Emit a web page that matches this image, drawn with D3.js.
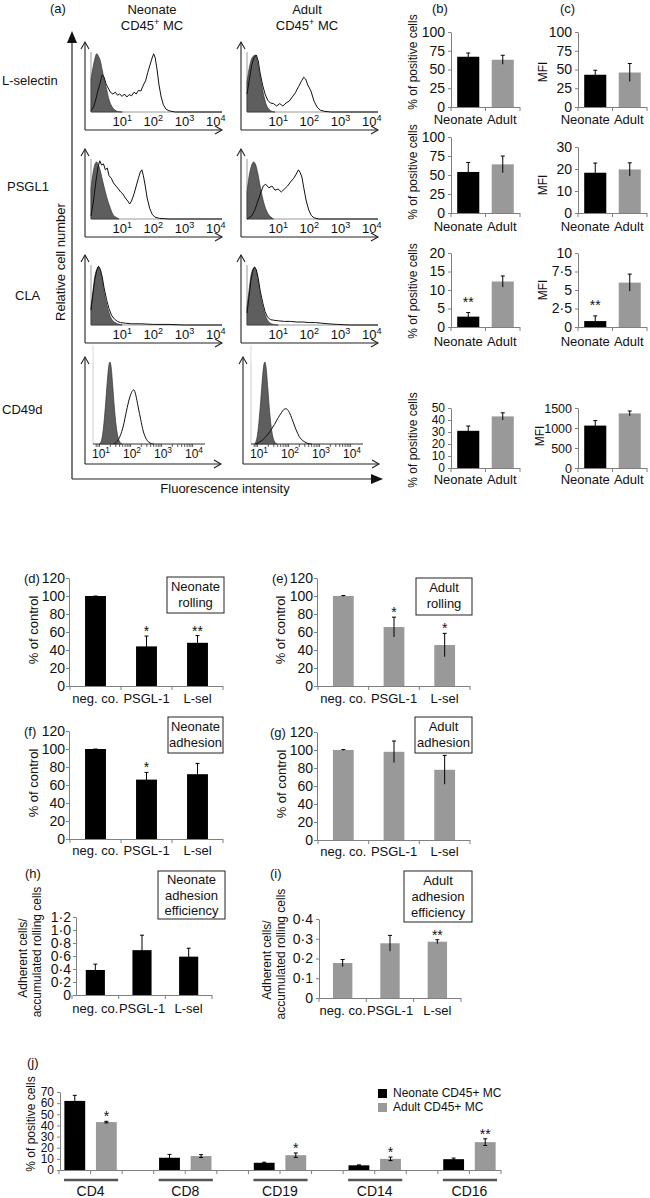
<!DOCTYPE html>
<html><head><meta charset="utf-8">
<script src="https://cdn.jsdelivr.net/npm/d3@7"></script>
<style>body{margin:0;background:#fff}</style>
</head><body><svg id="c" width="650" height="1198" xmlns="http://www.w3.org/2000/svg"></svg>
<script>
// ---------------- DATA ----------------
const histMarkers = ["L-selectin", "PSGL1", "CLA", "CD49d"];
const histGroups = ["Neonate", "Adult"];
const histTickExps = [1, 2, 3, 4];
// flow histograms: [log10 fluorescence, relative cell number]
const lselNeoIso = [[0,0.55],[0.05,0.7],[0.12,0.88],[0.18,0.97],[0.24,0.93],[0.3,0.85],[0.36,0.7],[0.42,0.55],[0.5,0.38],[0.58,0.2],[0.66,0.1],[0.75,0.04],[0.85,0.01],[1.0,0]];
const lselNeoOpen = [[0,0.02],[0.08,0.08],[0.15,0.2],[0.22,0.35],[0.3,0.5],[0.36,0.62],[0.42,0.58],[0.48,0.47],[0.55,0.4],[0.62,0.33],[0.7,0.3],[0.78,0.33],[0.85,0.28],[0.92,0.3],[1.0,0.26],[1.07,0.3],[1.15,0.25],[1.22,0.29],[1.3,0.27],[1.38,0.33],[1.45,0.3],[1.52,0.36],[1.6,0.35],[1.68,0.45],[1.75,0.52],[1.82,0.66],[1.9,0.8],[1.96,0.9],[2.01,0.97],[2.06,0.9],[2.12,0.7],[2.18,0.45],[2.25,0.25],[2.32,0.12],[2.4,0.05],[2.5,0.02],[2.7,0],[4.2,0]];
const lselAduIso = [[0,0.5],[0.06,0.7],[0.13,0.86],[0.2,0.93],[0.27,0.95],[0.33,0.85],[0.4,0.65],[0.47,0.45],[0.55,0.25],[0.62,0.12],[0.7,0.05],[0.8,0.01],[0.9,0]];
const lselAduOpen = [[0,0.3],[0.08,0.55],[0.15,0.78],[0.22,0.9],[0.3,0.95],[0.36,0.85],[0.42,0.65],[0.5,0.45],[0.58,0.3],[0.66,0.2],[0.75,0.15],[0.85,0.14],[0.95,0.1],[1.05,0.14],[1.15,0.1],[1.25,0.15],[1.35,0.18],[1.45,0.25],[1.55,0.32],[1.65,0.42],[1.75,0.52],[1.82,0.58],[1.88,0.55],[1.95,0.45],[2.05,0.35],[2.15,0.18],[2.25,0.08],[2.35,0.03],[2.5,0.01],[2.7,0],[4.2,0]];
const psglNeoIso = [[0,0.5],[0.06,0.75],[0.12,0.9],[0.18,0.95],[0.24,0.9],[0.3,0.8],[0.38,0.62],[0.46,0.45],[0.54,0.3],[0.62,0.18],[0.7,0.08],[0.8,0.03],[0.9,0]];
const psglNeoOpen = [[0,0.05],[0.08,0.3],[0.15,0.6],[0.22,0.85],[0.28,0.97],[0.34,0.9],[0.4,0.92],[0.46,0.82],[0.52,0.85],[0.58,0.72],[0.65,0.68],[0.72,0.6],[0.8,0.55],[0.88,0.5],[0.95,0.45],[1.02,0.42],[1.1,0.35],[1.18,0.3],[1.24,0.25],[1.3,0.3],[1.38,0.42],[1.45,0.55],[1.52,0.68],[1.58,0.78],[1.63,0.82],[1.68,0.72],[1.74,0.55],[1.8,0.35],[1.88,0.18],[1.96,0.08],[2.05,0.03],[2.2,0.01],[2.5,0],[4.2,0]];
const psglAduIso = [[0,0.45],[0.07,0.72],[0.14,0.88],[0.21,0.95],[0.28,0.9],[0.35,0.75],[0.42,0.55],[0.5,0.35],[0.58,0.2],[0.66,0.1],[0.75,0.04],[0.85,0]];
const psglAduOpen = [[0,0],[0.15,0.05],[0.25,0.15],[0.35,0.3],[0.45,0.45],[0.52,0.55],[0.6,0.58],[0.7,0.52],[0.8,0.55],[0.9,0.48],[1.0,0.5],[1.1,0.45],[1.2,0.5],[1.3,0.55],[1.4,0.62],[1.5,0.68],[1.58,0.75],[1.65,0.82],[1.7,0.78],[1.76,0.7],[1.82,0.52],[1.9,0.3],[1.98,0.15],[2.06,0.06],[2.15,0.02],[2.3,0],[4.2,0]];
const claNeoIso = [[0,0.3],[0.06,0.55],[0.12,0.8],[0.18,0.92],[0.24,0.97],[0.3,0.9],[0.36,0.75],[0.42,0.55],[0.5,0.35],[0.58,0.2],[0.66,0.1],[0.75,0.05],[0.85,0.02],[1.0,0]];
const claNeoOpen = [[0,0.25],[0.06,0.5],[0.12,0.75],[0.18,0.9],[0.24,0.98],[0.3,0.93],[0.36,0.8],[0.42,0.62],[0.5,0.42],[0.58,0.27],[0.66,0.16],[0.75,0.1],[0.85,0.06],[0.95,0.04],[1.1,0.03],[1.3,0.02],[1.6,0.02],[2.0,0.01],[2.5,0.01],[3.0,0],[4.2,0]];
const claAduIso = [[0,0.3],[0.06,0.55],[0.12,0.8],[0.18,0.92],[0.24,0.96],[0.3,0.9],[0.36,0.72],[0.42,0.52],[0.5,0.32],[0.58,0.17],[0.66,0.08],[0.75,0.03],[0.85,0.01],[1.0,0]];
const claAduOpen = [[0,0.2],[0.06,0.45],[0.12,0.72],[0.18,0.9],[0.24,0.97],[0.3,0.92],[0.36,0.78],[0.42,0.58],[0.5,0.38],[0.58,0.22],[0.66,0.13],[0.75,0.09],[0.85,0.08],[1.0,0.07],[1.2,0.06],[1.4,0.06],[1.6,0.05],[1.8,0.05],[2.0,0.04],[2.2,0.04],[2.4,0.03],[2.6,0.02],[2.9,0.01],[3.3,0],[4.2,0]];
const cd49dNeoIso = [[0.95,0],[1.02,0.05],[1.08,0.2],[1.14,0.45],[1.2,0.75],[1.25,0.95],[1.29,1.0],[1.33,0.93],[1.38,0.7],[1.43,0.45],[1.48,0.25],[1.54,0.1],[1.6,0.03],[1.68,0]];
const cd49dNeoOpen = [[1.4,0],[1.52,0.03],[1.62,0.1],[1.72,0.22],[1.82,0.4],[1.92,0.56],[2.0,0.64],[2.06,0.66],[2.12,0.6],[2.2,0.45],[2.28,0.3],[2.36,0.16],[2.45,0.07],[2.55,0.02],[2.7,0]];
const cd49dAduIso = [[0.85,0],[0.92,0.05],[0.98,0.2],[1.04,0.45],[1.1,0.75],[1.15,0.95],[1.19,1.0],[1.23,0.93],[1.28,0.7],[1.33,0.45],[1.38,0.25],[1.44,0.1],[1.5,0.03],[1.58,0]];
const cd49dAduOpen = [[0.9,0],[1.05,0.03],[1.2,0.08],[1.35,0.15],[1.5,0.24],[1.62,0.32],[1.72,0.38],[1.8,0.42],[1.87,0.43],[1.94,0.41],[2.02,0.35],[2.1,0.27],[2.2,0.17],[2.3,0.09],[2.42,0.04],[2.55,0.01],[2.7,0]];

// (b)/(c) bar panels: [Neonate, Adult]
const groupCats = ["Neonate", "Adult"];
const lselPct = [67, 63], lselPctErr = [5, 6];
const lselMfi = [43, 46], lselMfiErr = [6, 12];
const psglPct = [54, 64], psglPctErr = [12.5, 11];
const psglMfi = [18.3, 19.8], psglMfiErr = [4.4, 3];
const claPct = [2.8, 12.3], claPctErr = [1.1, 1.5];
const claMfi = [0.8, 6], claMfiErr = [0.7, 1.15];
const cd49dPct = [31, 43], cd49dPctErr = [4, 3];
const cd49dMfi = [1060, 1365], cd49dMfiErr = [125, 60];

// (d)-(i) blocking experiments
const blockCats = ["neg. co.", "PSGL-1", "L-sel"];
const neoRolling = [100, 44, 48], neoRollingErr = [0, 11.5, 8];
const aduRolling = [100, 65.5, 45.5], aduRollingErr = [0.5, 11, 13];
const neoAdhesion = [100, 66, 72], neoAdhesionErr = [0, 8, 12];
const aduAdhesion = [100, 98, 78], aduAdhesionErr = [0.5, 12, 16];
const neoEfficiency = [0.385, 0.69, 0.59], neoEfficiencyErr = [0.09, 0.23, 0.13];
const aduEfficiency = [0.177, 0.277, 0.285], aduEfficiencyErr = [0.018, 0.04, 0.01];

// (j) surface markers
const markerCats = ["CD4", "CD8", "CD19", "CD14", "CD16"];
const markerNeo = [62, 11, 6.5, 4.2, 9.7], markerNeoErr = [5, 3, 0.5, 0.4, 1];
const markerAdu = [43, 12.5, 13.3, 10, 25], markerAduErr = [0.7, 1.3, 2, 1.6, 3];
const markerAduStars = ["*", "", "*", "*", "**"];
const legendLabels = ["Neonate CD45+ MC", "Adult CD45+ MC"];

// ---------------- DRAWING ----------------
const FONT = '"Liberation Sans", Arial, Helvetica, sans-serif';
const BLACK = "#000", GREY = "#999", AXIS = "#808080";
const svg = d3.select("#c");

function label(x, y, s, size, anchor, rot) {
  const t = svg.append("text").attr("x", x).attr("y", y).attr("font-size", size)
    .attr("text-anchor", anchor || "start").attr("font-family", FONT).attr("fill", "#111").text(s);
  if (rot) t.attr("transform", `rotate(-90,${x},${y})`).attr("dy", "0.35em");
  return t;
}
function supText(x, y, base, sup, rest, size, supSize, anchor) {
  const t = svg.append("text").attr("x", x).attr("y", y).attr("font-size", size)
    .attr("text-anchor", anchor || "middle").attr("font-family", FONT).attr("fill", "#111");
  t.append("tspan").text(base);
  t.append("tspan").attr("dy", -size * 0.4).attr("font-size", supSize).text(sup);
  if (rest) t.append("tspan").attr("dy", size * 0.4).text(rest);
  return t;
}

// ---- panel (a) ----
label(50, 13, "(a)", 13);
histGroups.forEach((g, i) => {
  const cx = [152, 307][i];
  label(cx, 14, g, 13, "middle");
  supText(cx, 30, "CD45", "+", " MC", 13, 9, "middle");
});
const rowLabelPos = [[2, 85], [7, 191], [15, 300], [2, 414]];
histMarkers.forEach((m, i) => label(rowLabelPos[i][0], rowLabelPos[i][1], m, 13));

// big axes
svg.append("line").attr("x1", 72).attr("x2", 72).attr("y1", 40).attr("y2", 479).attr("stroke", "#222").attr("stroke-width", 1.2);
svg.append("path").attr("d", "M72,31L67,43L77,43Z").attr("fill", "#111");
svg.append("line").attr("x1", 72).attr("x2", 374).attr("y1", 479).attr("y2", 479).attr("stroke", "#222").attr("stroke-width", 1.2);
svg.append("path").attr("d", "M383,479L371,474L371,484Z").attr("fill", "#111");
label(60, 262, "Relative cell number", 13, "middle", true);
label(225, 493, "Fluorescence intensity", 13, "middle");

const histSets = [
  [[lselNeoIso, lselNeoOpen], [lselAduIso, lselAduOpen]],
  [[psglNeoIso, psglNeoOpen], [psglAduIso, psglAduOpen]],
  [[claNeoIso, claNeoOpen], [claAduIso, claAduOpen]],
  [[cd49dNeoIso, cd49dNeoOpen], [cd49dAduIso, cd49dAduOpen]]
];
const rowTops = [42, 149, 255, 357];

function drawHist(o) {
  const g = svg.append("g");
  const ink = "#222";
  g.append("line").attr("x1", o.ax).attr("x2", o.ax).attr("y1", o.top).attr("y2", o.axisY).attr("stroke", ink).attr("stroke-width", 1.1);
  g.append("path").attr("d", `M${o.ax - 4},${o.top + 7}L${o.ax},${o.top}L${o.ax + 4},${o.top + 7}`).attr("fill", "none").attr("stroke", ink).attr("stroke-width", 1.1);
  g.append("line").attr("x1", o.ax).attr("x2", o.axisEnd).attr("y1", o.axisY).attr("y2", o.axisY).attr("stroke", ink).attr("stroke-width", 1.1);
  g.append("path").attr("d", `M${o.axisEnd - 7},${o.axisY - 4}L${o.axisEnd},${o.axisY}L${o.axisEnd - 7},${o.axisY + 4}`).attr("fill", "none").attr("stroke", ink).attr("stroke-width", 1.1);
  g.append("line").attr("x1", o.fx0).attr("x2", o.fx0).attr("y1", o.frameTop).attr("y2", o.base).attr("stroke", o.frameCol).attr("stroke-width", 1);
  g.append("line").attr("x1", o.fx0).attr("x2", o.fx1).attr("y1", o.base).attr("y2", o.base).attr("stroke", o.baseCol).attr("stroke-width", 1);
  if (o.minor) {
    const mt = [];
    [0, 1, 2, 3].forEach(k => d3.range(2, 10).forEach(m => { const v = Math.log10(m) + k; if (o.xs(v) > o.fx0 + 3 && o.xs(v) < o.fx1) mt.push(v); }));
    g.selectAll(null).data(mt).join("line").attr("x1", d => o.xs(d)).attr("x2", d => o.xs(d))
      .attr("y1", o.base).attr("y2", o.base + 3).attr("stroke", "#333").attr("stroke-width", 0.8);
  }
  const area = d3.area().x(d => o.xs(d[0])).y0(o.base).y1(d => o.ys(d[1])).curve(d3.curveMonotoneX);
  const line = d3.line().x(d => o.xs(d[0])).y(d => o.ys(d[1])).curve(o.smooth ? d3.curveMonotoneX : d3.curveLinear);
  g.append("path").attr("d", area(o.iso)).attr("fill", "#5e5e5e").attr("stroke", "#333").attr("stroke-width", 0.7);
  g.append("path").attr("d", line(o.open)).attr("fill", "none").attr("stroke", "#111").attr("stroke-width", 1);
  histTickExps.forEach(e => supText(o.xs(e), o.labY, "10", String(e), null, o.tickSize, o.tickSize * 0.7, "middle"));
}

histSets.forEach((row, r) => {
  const T = rowTops[r];
  row.forEach((pair, c) => {
    if (r < 3) {
      const off = c * 156;
      drawHist({
        ax: 85 + off, fx0: 91 + off, fx1: 222 + off, top: T, frameTop: T + 10, base: T + 70,
        axisY: T + 88, axisEnd: 222 + off, labY: T + 84,
        xs: d3.scaleLinear().domain([0, 4.2]).range([91 + off, 222 + off]),
        ys: d3.scaleLinear().domain([0, 1]).range([T + 70, T + 10]),
        iso: pair[0], open: pair[1], frameCol: "#999", baseCol: "#999", tickSize: 13, smooth: false
      });
    } else {
      const off = c * 158;
      svg.append("line").attr("x1", 93 + off).attr("x2", 93 + off).attr("y1", 345).attr("y2", 362).attr("stroke", "#ddd");
      drawHist({
        ax: 85 + off, fx0: 93 + off, fx1: 205 + off, top: T, frameTop: 362, base: 444,
        axisY: 464, axisEnd: 221 + off, labY: 458,
        xs: d3.scaleLinear().domain([0, 4]).range([70 + off, 194 + off]),
        ys: d3.scaleLinear().domain([0, 1]).range([444, 362]),
        iso: pair[0], open: pair[1], frameCol: "#ccc", baseCol: "#333", tickSize: 12, smooth: true, minor: true
      });
    }
  });
});

// ---- generic bar chart ----
function drawBars(o) {
  const g = svg.append("g");
  const x = d3.scaleBand().domain(o.cats).range([o.x0, o.x1]);
  const y = d3.scaleLinear().domain([0, o.max]).range([o.y0, o.y1]);
  const ga = g.append("g").attr("transform", `translate(${o.axisX != null ? o.axisX : o.x0},0)`)
    .call(d3.axisLeft(y).tickValues(o.ticks).tickFormat(o.fmt).tickSize(3).tickSizeOuter(0).tickPadding(o.pad != null ? o.pad : 3));
  ga.select(".domain").attr("stroke", AXIS);
  ga.selectAll(".tick line").attr("stroke", AXIS);
  ga.selectAll("text").attr("font-size", o.tickFont).attr("font-family", FONT).attr("fill", "#111");
  g.append("line").attr("x1", o.axisX != null ? o.axisX : o.x0).attr("x2", o.x1).attr("y1", o.y0 + 0.5).attr("y2", o.y0 + 0.5).attr("stroke", AXIS);
  g.selectAll(null).data(d3.range(o.cats.length + 1)).join("line")
    .attr("x1", i => o.x0 + i * x.step()).attr("x2", i => o.x0 + i * x.step())
    .attr("y1", o.y0).attr("y2", o.y0 + 4).attr("stroke", AXIS);
  const bw = x.bandwidth() * o.frac;
  const cx = i => x(o.cats[i]) + x.bandwidth() / 2;
  g.selectAll(null).data(o.vals).join("rect")
    .attr("x", (d, i) => cx(i) - bw / 2).attr("width", bw)
    .attr("y", d => y(d)).attr("height", d => o.y0 - y(d))
    .attr("fill", (d, i) => o.fills[i]);
  o.vals.forEach((v, i) => {
    const e = o.errs[i];
    const yt = y(v + e), yb = y(Math.max(0, v - e));
    g.append("line").attr("x1", cx(i)).attr("x2", cx(i)).attr("y1", yt).attr("y2", yb).attr("stroke", "#000").attr("stroke-width", 1);
    g.append("line").attr("x1", cx(i) - 2).attr("x2", cx(i) + 2).attr("y1", yt).attr("y2", yt).attr("stroke", "#000").attr("stroke-width", 1);
    if (o.stars && o.stars[i]) label(cx(i), yt - o.starGap, o.stars[i], 14, "middle");
  });
  if (o.catY != null) o.cats.forEach((c, i) => label(cx(i) + (o.catDx ? o.catDx[i] : 0), o.catY, c, o.catFont || 13, "middle"));
  return { x, y };
}
const dotFmt = d => d === 0 ? "0" : (Number.isInteger(d) ? String(d) : d3.format(".1f")(d).replace(".", "·"));
const dotFmt1 = d => d === 0 ? "0" : d3.format(".1f")(d).replace(".", "·");

// ---- panels (b) and (c) ----
label(432, 13, "(b)", 13);
label(560, 13, "(c)", 13);
const bcFills = [BLACK, GREY];
const bcDx = [-10, -1];
const bcRows = [
  { p: [lselPct, lselPctErr, 100, [0, 25, 50, 75, 100]], m: [lselMfi, lselMfiErr, 100, [0, 25, 50, 75, 100]], yb: [107, 32], yc: [107, 32], cy: 124, lb: 62, lc: 72, pf: 14, mf: 14 },
  { p: [psglPct, psglPctErr, 100, [0, 25, 50, 75, 100]], m: [psglMfi, psglMfiErr, 30, [0, 10, 20, 30]], yb: [213, 137], yc: [213, 147], cy: 231, lb: 172, lc: 185, pf: 14, mf: 14 },
  { p: [claPct, claPctErr, 20, [0, 5, 10, 15, 20]], m: [claMfi, claMfiErr, 10, [0, 2.5, 5, 7.5, 10]], yb: [327, 253], yc: [327, 253], cy: 346, lb: 291, lc: 290, pf: 14, mf: 14, stars: ["**", ""] },
  { p: [cd49dPct, cd49dPctErr, 50, [0, 10, 20, 30, 40, 50]], m: [cd49dMfi, cd49dMfiErr, 1500, [0, 500, 1000, 1500]], yb: [468, 408], yc: [468, 408], cy: 484, lb: 440, lc: 436, pf: 12, mf: 12.5 }
];
bcRows.forEach(r => {
  drawBars({ x0: 451, x1: 520, y0: r.yb[0], y1: r.yb[1], max: r.p[2], ticks: r.p[3], fmt: dotFmt,
    cats: groupCats, vals: r.p[0], errs: r.p[1], fills: bcFills, frac: 0.64, tickFont: r.pf, catY: r.cy, catDx: bcDx, stars: r.stars, starGap: 6 });
  drawBars({ x0: 578, x1: 647, y0: r.yc[0], y1: r.yc[1], max: r.m[2], ticks: r.m[3], fmt: dotFmt,
    cats: groupCats, vals: r.m[0], errs: r.m[1], fills: bcFills, frac: 0.64, tickFont: r.mf, catY: r.cy, catDx: bcDx, stars: r.stars, starGap: 6 });
  label(413, r.lb, "% of positive cells", 12, "middle", true);
  label(r.mf < 14 ? 540 : 543, r.lc, "MFI", 12, "middle", true);
});

// ---- panels (d)-(i) ----
function boxNote(x, y, w, h, lines, step, first) {
  svg.append("rect").attr("x", x).attr("y", y).attr("width", w).attr("height", h).attr("fill", "#fff").attr("stroke", "#222").attr("stroke-width", 1);
  lines.forEach((s, i) => label(x + w / 2, y + first + i * step, s, 13, "middle"));
}
const ctlTicks = [0, 20, 40, 60, 80, 100, 120];
const blockPanels = [
  { id: "(d)", lx: 24, x0: 70, x1: 223, y0: 686, y1: 578, v: neoRolling, e: neoRollingErr, fill: BLACK, stars: ["", "*", "**"], box: [167, 577, 57, 36, ["Neonate", "rolling"]], catY: 703, ylx: 33 },
  { id: "(e)", lx: 272, x0: 318, x1: 470, y0: 686, y1: 578, v: aduRolling, e: aduRollingErr, fill: GREY, stars: ["", "*", "*"], box: [416, 578, 56, 37, ["Adult", "rolling"]], catY: 703, ylx: 280 },
  { id: "(f)", lx: 24, x0: 70, x1: 223, y0: 839, y1: 731, v: neoAdhesion, e: neoAdhesionErr, fill: BLACK, stars: ["", "*", ""], box: [168, 717, 55, 36, ["Neonate", "adhesion"]], catY: 855, ylx: 33 },
  { id: "(g)", lx: 270, x0: 318, x1: 470, y0: 840, y1: 732, v: aduAdhesion, e: aduAdhesionErr, fill: GREY, stars: null, box: [415, 717, 57, 36, ["Adult", "adhesion"]], catY: 856, ylx: 281 }
];
blockPanels.forEach(p => {
  label(p.lx, p.y1 + 5, p.id, 13);
  drawBars({ x0: p.x0, x1: p.x1, axisX: p.x0 - 1, y0: p.y0, y1: p.y1, max: 120, ticks: ctlTicks, fmt: d3.format("d"), pad: 1,
    cats: blockCats, vals: p.v, errs: p.e, fills: [p.fill, p.fill, p.fill], frac: 0.41, tickFont: 14, catY: p.catY, stars: p.stars, starGap: 0 });
  boxNote(p.box[0], p.box[1], p.box[2], p.box[3], p.box[4], 16, 14);
  label(p.ylx, (p.y0 + p.y1) / 2 - 2, "% of control", 13, "middle", true);
});
// (h)
label(25, 878, "(h)", 13);
drawBars({ x0: 72, x1: 212, axisX: 76, y0: 995, y1: 917, max: 1.2, ticks: [0, 0.2, 0.4, 0.6, 0.8, 1.0, 1.2], fmt: dotFmt1, pad: 2,
  cats: blockCats, vals: neoEfficiency, errs: neoEfficiencyErr, fills: [BLACK, BLACK, BLACK], frac: 0.41, tickFont: 14, catY: 1013 });
boxNote(158, 871, 67, 48, ["Neonate", "adhesion", "efficiency"], 15.5, 13);
label(23, 958, "Adherent cells/", 12, "middle", true);
label(37, 952, "accumulated rolling cells", 12, "middle", true);
// (i)
label(270, 878, "(i)", 13);
drawBars({ x0: 319, x1: 461, y0: 998, y1: 919, max: 0.4, ticks: [0, 0.1, 0.2, 0.3, 0.4], fmt: dotFmt1, pad: 3,
  cats: blockCats, vals: aduEfficiency, errs: aduEfficiencyErr, fills: [GREY, GREY, GREY], frac: 0.41, tickFont: 14, catY: 1015, catFont: 13, stars: ["", "", "**"], starGap: 0 });
boxNote(404, 871, 68, 51, ["Adult", "adhesion", "efficiency"], 16, 14);
label(267, 960, "Adherent cells/", 12, "middle", true);
label(281, 954, "accumulated rolling cells", 12, "middle", true);

// ---- panel (j) ----
label(27, 1067, "(j)", 13);
(function () {
  const slots = d3.range(markerCats.length * 3 - 1);
  const x = d3.scaleBand().domain(slots).range([59, 501]);
  const y = d3.scaleLinear().domain([0, 70]).range([1170, 1092]);
  const ga = svg.append("g").attr("transform", "translate(60,0)")
    .call(d3.axisLeft(y).tickValues(d3.range(0, 71, 10)).tickFormat(d3.format("d")).tickSize(3).tickSizeOuter(0).tickPadding(3));
  ga.select(".domain").attr("stroke", AXIS);
  ga.selectAll(".tick line").attr("stroke", AXIS);
  ga.selectAll("text").attr("font-size", 12).attr("font-family", FONT).attr("fill", "#111");
  svg.append("line").attr("x1", 60).attr("x2", 501).attr("y1", 1170.5).attr("y2", 1170.5).attr("stroke", AXIS);
  svg.selectAll(null).data(d3.range(slots.length + 1)).join("line")
    .attr("x1", i => 59 + i * x.step()).attr("x2", i => 59 + i * x.step()).attr("y1", 1170).attr("y2", 1174).attr("stroke", AXIS);
  const bw = x.bandwidth() * 0.66;
  const series = [[markerNeo, markerNeoErr, BLACK, 0], [markerAdu, markerAduErr, GREY, 1]];
  series.forEach(([vals, errs, fill, k]) => {
    vals.forEach((v, i) => {
      const cx = x(i * 3 + k) + x.bandwidth() / 2;
      svg.append("rect").attr("x", cx - bw / 2).attr("width", bw).attr("y", y(v)).attr("height", 1170 - y(v)).attr("fill", fill);
      const yt = y(v + errs[i]), yb = y(v - errs[i]);
      svg.append("line").attr("x1", cx).attr("x2", cx).attr("y1", yt).attr("y2", yb).attr("stroke", "#000");
      svg.append("line").attr("x1", cx - 2).attr("x2", cx + 2).attr("y1", yt).attr("y2", yt).attr("stroke", "#000");
      svg.append("line").attr("x1", cx - 2).attr("x2", cx + 2).attr("y1", yb).attr("y2", yb).attr("stroke", "#000");
      if (k === 1 && markerAduStars[i]) label(cx, yt, markerAduStars[i], 14, "middle");
    });
  });
  markerCats.forEach((c, i) => {
    const a = x(i * 3), b = x(i * 3 + 1) + x.bandwidth();
    svg.append("line").attr("x1", a + 5).attr("x2", b - 4).attr("y1", 1180).attr("y2", 1180).attr("stroke", "#555").attr("stroke-width", 2.5);
    label((a + b) / 2, 1196, c, 14, "middle");
  });
  label(31, 1124, "% of positive cells", 12, "middle", true);
  [BLACK, GREY].forEach((f, i) => {
    svg.append("rect").attr("x", 378).attr("y", 1089 + i * 14).attr("width", 9).attr("height", 9).attr("fill", f);
    label(393, 1097 + i * 14, legendLabels[i], 12);
  });
})();
</script></body></html>
